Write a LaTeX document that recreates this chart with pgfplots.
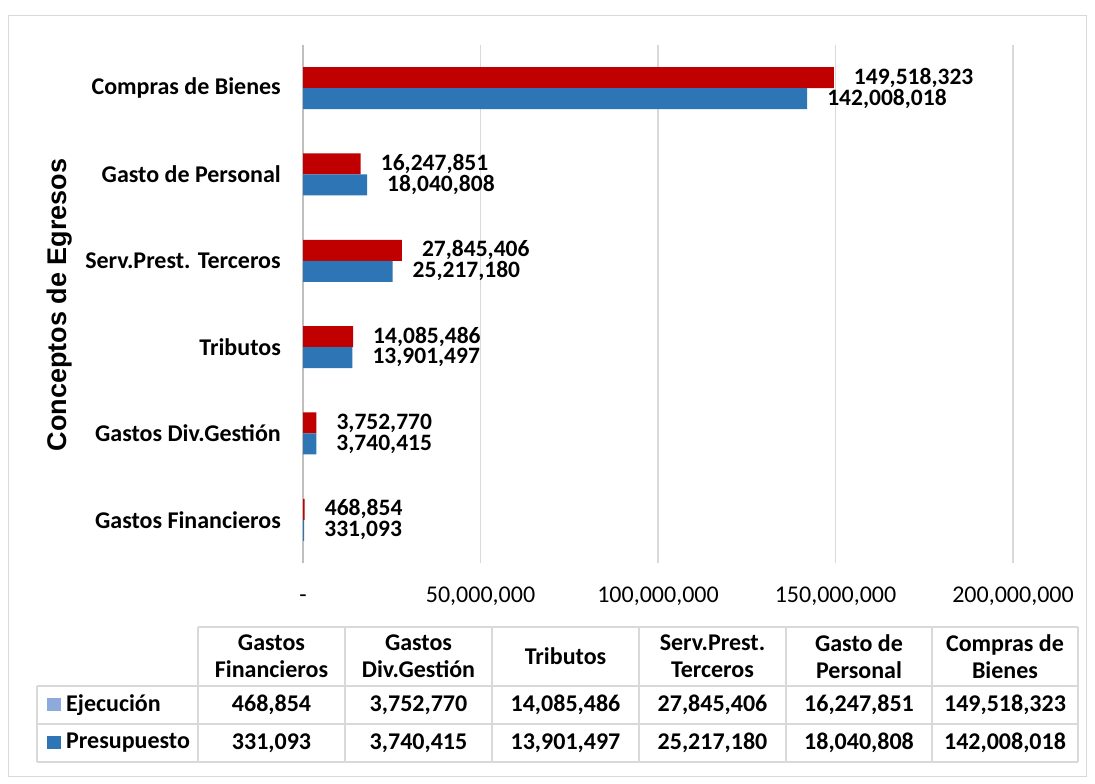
\documentclass[border=0pt]{standalone}
\usepackage{pgfplots}
\usepackage{pgfplotstable}
\pgfplotsset{compat=1.18}
\usepackage{fontspec}
\setmainfont{Carlito}
\newfontfamily\arialfont{Liberation Sans}
\definecolor{exered}{HTML}{C00000}
\definecolor{preblue}{HTML}{2E75B6}
\definecolor{legexe}{HTML}{8EA9DB}
\definecolor{gridgray}{HTML}{D9D9D9}
\definecolor{axisgray}{HTML}{BFBFBF}

\pgfplotstableread{
c exe exel pre prel
0 468854 468,854 331093 331,093
1 3752770 3,752,770 3740415 3,740,415
2 14085486 14,085,486 13901497 13,901,497
3 27845406 27,845,406 25217180 25,217,180
4 16247851 16,247,851 18040808 18,040,808
5 149518323 149,518,323 142008018 142,008,018
}\datatable

\newcommand{\tf}{\bfseries\fontsize{24}{27}\selectfont}

\begin{document}
\begin{tikzpicture}[x=1pt,y=1pt]
\fill[white] (0,0) rectangle (1095,784);
\draw[gridgray, line width=1pt] (8.5,7.5) rectangle (1086,768);
\begin{axis}[
  at={(303pt,221pt)}, anchor=south west,
  width=710pt, height=518pt, scale only axis,
  xbar, bar width=21pt,
  xmin=0, xmax=200000000,
  ymin=-0.5, ymax=5.5,
  ytick={0,1,2,3,4,5},
  yticklabels={Gastos Financieros, Gastos Div.Gestión, Tributos, Serv.Prest. Terceros, Gasto de Personal, Compras de Bienes},
  xtick={0,50000000,100000000,150000000,200000000},
  xticklabels={{-},{50,000,000},{100,000,000},{150,000,000},{200,000,000}},
  scaled x ticks=false,
  axis lines*=left,
  axis line style={-},
  x axis line style={draw=none},
  y axis line style={draw=axisgray, line width=1.5pt},
  xmajorgrids,
  grid style={gridgray, line width=1.5pt},
  major tick length=0pt,
  xticklabel style={font=\fontsize{24}{28}\selectfont, text height=16pt, text depth=4pt, yshift=-20pt},
  yticklabel style={font=\bfseries\fontsize{24}{28}\selectfont, inner sep=0pt, xshift=-22pt},
  nodes near coords,
  point meta=explicit symbolic,
  nodes near coords style={font=\bfseries\fontsize{23.5}{26}\selectfont, anchor=west, inner sep=0pt, xshift=20pt},
]
\addplot[fill=exered, draw=none, bar shift=10.5pt] table[x=exe, y=c, meta=exel]{\datatable};
\addplot[fill=preblue, draw=none, bar shift=-10.5pt] table[x=pre, y=c, meta=prel]{\datatable};
\end{axis}

\node[rotate=90, font=\arialfont\bfseries\fontsize{27}{30}\selectfont] at (60,479) {Conceptos de Egresos};

% data table
\begin{scope}[gridgray, line width=1.5pt]
\draw (198,157) -- (1078,157);
\draw (37,98) -- (1078,98);
\draw (37,60) -- (1078,60);
\draw (37,22) -- (1078,22);
\draw (37,22) -- (37,98);
\foreach \xx in {198,345,492,639,786,932,1078} {\draw (\xx,22) -- (\xx,157);}
\end{scope}
\begin{scope}[every node/.style={font=\tf, align=center}]
\node at (271.5,127.5) {Gastos\\Financieros};
\node at (418.5,127.5) {Gastos\\Div.Gestión};
\node at (565.5,127.5) {Tributos};
\node at (712.5,127.5) {Serv.Prest.\\Terceros};
\node at (859,127.5) {Gasto de\\Personal};
\node at (1005,127.5) {Compras de\\Bienes};
\node at (271.5,79) {468,854};
\node at (418.5,79) {3,752,770};
\node at (565.5,79) {14,085,486};
\node at (712.5,79) {27,845,406};
\node at (859,79) {16,247,851};
\node at (1005,79) {149,518,323};
\node at (271.5,41) {331,093};
\node at (418.5,41) {3,740,415};
\node at (565.5,41) {13,901,497};
\node at (712.5,41) {25,217,180};
\node at (859,41) {18,040,808};
\node at (1005,41) {142,008,018};
\end{scope}
\fill[legexe] (47,72.5) rectangle (60.5,86);
\node[anchor=west, font=\tf, inner sep=0pt] at (66,79) {Ejecución};
\fill[preblue] (47,34.5) rectangle (60.5,48);
\node[anchor=west, font=\tf, inner sep=0pt] at (66,41) {Presupuesto};
\end{tikzpicture}
\end{document}
